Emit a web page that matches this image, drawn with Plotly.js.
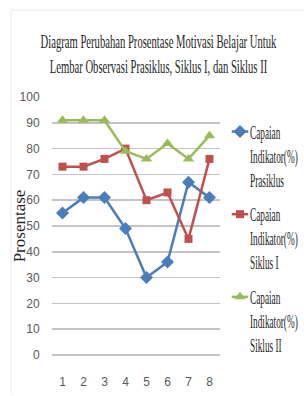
<!DOCTYPE html>
<html>
<head>
<meta charset="utf-8">
<script src="https://cdn.plot.ly/plotly-3.0.1.min.js"></script>
<style>
  html, body { margin: 0; padding: 0; background: #fff; overflow: hidden; }
  #chart { width: 304px; height: 396px; }
  .gtitle { transform-box: fill-box; transform-origin: center; transform: scaleX(0.56); }
  .legendtext { transform-box: fill-box; transform-origin: left center; transform: translateX(-10px) scaleX(0.5); }
  .legendlines path { transform-box: fill-box; transform-origin: center; transform: scaleX(0.55); }
  .g-ytitle { transform: translateX(13px); }
</style>
</head>
<body>
<div id="chart"></div>
<script>
const categories = ['1', '2', '3', '4', '5', '6', '7', '8'];
const prasiklus = [55, 61, 61, 49, 30, 36, 67, 61];
const siklusI   = [73, 73, 76, 80, 60, 63, 45, 76];
const siklusII  = [91, 91, 91, 79, 76, 82, 76, 85];
const seriesNames = [
  'Capaian<br>Indikator(%)<br>Prasiklus',
  'Capaian<br>Indikator(%)<br>Siklus I',
  'Capaian<br>Indikator(%)<br>Siklus II'
];
const yTicks = [0, 10, 20, 30, 40, 50, 60, 70, 80, 90, 100];

const colors = ['#4A7EBB', '#C0504D', '#9BBB59'];
const symbols = ['diamond', 'square', 'triangle-up'];
const seriesValues = [prasiklus, siklusI, siklusII];

const traces = seriesValues.map((vals, i) => ({
  type: 'scatter',
  mode: 'lines+markers',
  x: categories,
  y: vals,
  name: seriesNames[i],
  legendgroup: 'g' + i,
  line: { color: colors[i], width: 2.5 },
  marker: { symbol: symbols[i], size: i === 1 ? 8 : 10, color: colors[i] }
}));

const tickFont = { family: 'Liberation Sans Narrow, Arial Narrow, Liberation Sans, sans-serif', size: 12, color: '#595959' };

const layout = {
  width: 304,
  height: 396,
  margin: { l: 52, r: 84, t: 97, b: 41, autoexpand: false },
  paper_bgcolor: '#ffffff',
  plot_bgcolor: '#ffffff',
  showlegend: true,
  title: {
    text: 'Diagram Perubahan Prosentase Motivasi Belajar Untuk<br>Lembar Observasi Prasiklus, Siklus I, dan Siklus II',
    font: { family: 'Liberation Serif, Times New Roman, serif', size: 19, color: '#262626' },
    xref: 'container', x: 0.521, xanchor: 'center',
    yref: 'container', y: 0.878, yanchor: 'top'
  },
  xaxis: {
    type: 'category',
    categoryarray: categories,
    range: [-0.5, 7.5],
    showgrid: false,
    showline: false,
    zeroline: false,
    ticks: 'outside', ticklen: 16, tickcolor: 'rgba(0,0,0,0)',
    tickfont: tickFont,
    fixedrange: true
  },
  yaxis: {
    range: [0, 100],
    tickvals: yTicks,
    ticktext: yTicks.map(String),
    showgrid: true,
    gridcolor: '#C4C4C4',
    gridwidth: 1.5,
    zeroline: true,
    zerolinecolor: '#C4C4C4',
    zerolinewidth: 1.5,
    showline: false,
    ticks: 'outside', ticklen: 9, tickcolor: 'rgba(0,0,0,0)',
    tickfont: tickFont,
    automargin: false,
    title: {
      text: 'Prosentase',
      font: { family: 'Liberation Serif, Times New Roman, serif', size: 17, color: '#262626' },
      standoff: 2
    },
    fixedrange: true
  },
  legend: {
    x: 1.0, xanchor: 'left',
    y: 0.938, yanchor: 'top',
    valign: 'top',
    traceorder: 'grouped',
    tracegroupgap: 7.5,
    bgcolor: 'rgba(0,0,0,0)',
    font: { family: 'Liberation Serif, Times New Roman, serif', size: 18.5, color: '#262626' }
  },
  shapes: [
    { type: 'line', xref: 'paper', yref: 'paper', x0: -0.244, x1: -0.244, y0: -0.15, y1: 1.337, line: { color: '#EAEAEA', width: 1 } },
    { type: 'line', xref: 'paper', yref: 'paper', x0: -0.244, x1: 1.5, y0: 1.337, y1: 1.337, line: { color: '#EAEAEA', width: 1 } }
  ]
};

Plotly.newPlot('chart', traces, layout, { displayModeBar: false, staticPlot: true });
</script>
</body>
</html>
